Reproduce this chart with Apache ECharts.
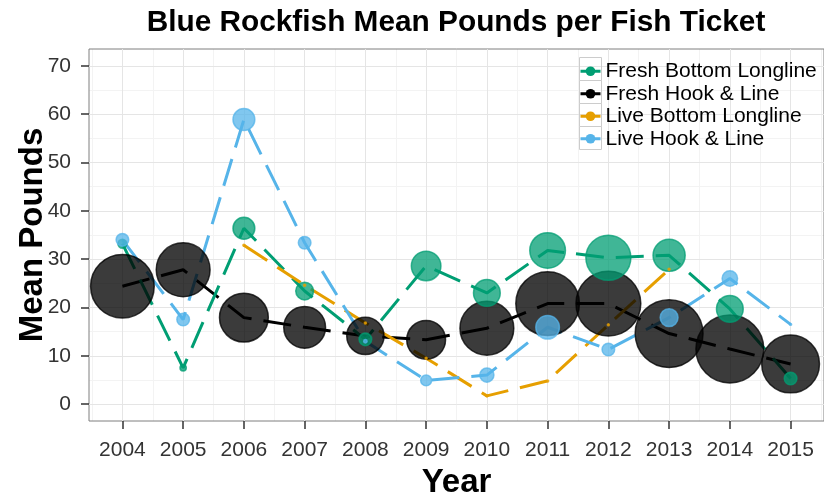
<!DOCTYPE html>
<html>
<head>
<meta charset="utf-8">
<script src="https://cdn.jsdelivr.net/npm/echarts@6/dist/echarts.min.js"></script>
<style>
  html, body { margin: 0; padding: 0; background: #fff; }
  #chart { width: 824px; height: 496px; }
</style>
</head>
<body>
<div id="chart"></div>
<script>
// years on the x axis
const years = [2004, 2005, 2006, 2007, 2008, 2009, 2010, 2011, 2012, 2013, 2014, 2015];

// mean pounds per ticket, by gear / condition
const freshBottomLongline = [33.2, 7.5, 36.4, 23.4, 13.4, 28.6, 23.0, 31.8, 30.3, 30.8, 19.7, 5.3];
const freshHookLine      = [24.4, 27.8, 17.9, 15.9, 14.1, 13.3, 15.7, 20.8, 20.8, 14.6, 11.4, 8.3];
const liveBottomLongline = [null, null, 32.9, 24.6, 16.8, 9.5, 1.7, 4.8, 16.4, 27.9, null, null];
const liveHookLine       = [34.0, 17.5, 58.9, 33.4, 13.0, 4.9, 6.0, 15.9, 11.3, 17.9, 26.0, 16.5];

// size aesthetic (relative number of tickets)
const freshBottomLonglineN = [2, 1, 12, 8, 4, 22, 18, 32, 51, 26, 18, 4];
const freshHookLineN       = [102, 73, 60, 44, 35, 38, 73, 102, 106, 116, 116, 84];
const liveBottomLonglineN  = [0.1, 0.1, 0.1, 0.1, 0.1, 0.1, 0.1, 0.1, 0.1, 0.1, 0.1, 0.1];
const liveHookLineN        = [4, 4, 12, 4, 0.3, 3, 5, 14, 4, 8, 6, 0.1];

const yTicks = [0, 10, 20, 30, 40, 50, 60, 70];
const yMinor = [5, 15, 25, 35, 45, 55, 65];
const xMinor = [2003.5, 2004.5, 2005.5, 2006.5, 2007.5, 2008.5, 2009.5, 2010.5, 2011.5, 2012.5, 2013.5, 2014.5, 2015.5];

const FONT = '"Liberation Sans", Arial, sans-serif';

function pairs(vals, n) {
  const out = [];
  years.forEach((y, i) => { if (vals[i] != null) out.push([y, vals[i], n[i]]); });
  return out;
}
function bubble(v) { return Math.sqrt(v[2]) * 6.3; }

function mkSeries(name, color, alpha, vals, n) {
  return {
    name: name,
    type: 'line',
    data: pairs(vals, n),
    symbol: 'circle',
    symbolSize: bubble,
    showAllSymbol: true,
    lineStyle: { color: color, width: 3, type: [28, 12], cap: 'butt' },
    itemStyle: { color: color, opacity: alpha, borderColor: color, borderWidth: 1.5 },
    emphasis: { disabled: true },
    z: 3
  };
}

const chart = echarts.init(document.getElementById('chart'));
const xMin = 2003.45, xMax = 2015.55, yMin = -3.5, yMax = 73.5;

chart.setOption({
  animation: false,
  title: {
    text: 'Blue Rockfish Mean Pounds per Fish Ticket',
    left: 451, top: 3, textAlign: 'center',
    textStyle: { fontFamily: FONT, fontWeight: 'bold', fontSize: 29.8, color: '#000' }
  },
  grid: {
    left: 89, right: 0, top: 49, bottom: 75, outerBoundsMode: 'none', containLabel: false,
    show: true, borderColor: '#7f7f7f', borderWidth: 1
  },
  legend: {
    orient: 'vertical', left: 579, top: 60, padding: 0,
    data: ['Fresh Bottom Longline', 'Fresh Hook & Line', 'Live Bottom Longline', 'Live Hook & Line'],
    itemWidth: 20, itemHeight: 12, itemGap: 0,
    lineStyle: { type: 'solid', width: 3 },
    itemStyle: { opacity: 1, borderWidth: 0 },
    textStyle: { fontFamily: FONT, fontSize: 21, color: '#000', lineHeight: 22.5 }
  },
  xAxis: [{
    type: 'value', min: xMin, max: xMax,
    axisLine: { show: false, onZero: false },
    axisTick: { show: true, length: 8, lineStyle: { color: '#333', width: 1.5 }, customValues: years },
    axisLabel: { customValues: years, margin: 19, fontFamily: FONT, fontSize: 21, color: '#333', formatter: v => String(v) },
    splitLine: { show: true, lineStyle: { color: '#e5e5e5', width: 1 } },
    name: 'Year', nameLocation: 'middle', nameGap: 45,
    nameTextStyle: { fontFamily: FONT, fontWeight: 'bold', fontSize: 33, color: '#000' }
  }, {
    type: 'value', min: xMin, max: xMax, position: 'top', z: -1,
    axisLine: { show: false, onZero: false },
    axisTick: { show: false, customValues: xMinor },
    axisLabel: { show: false },
    splitLine: { show: true, lineStyle: { color: '#f3f3f3', width: 1 } }
  }],
  yAxis: [{
    type: 'value', min: yMin, max: yMax,
    axisLine: { show: false, onZero: false },
    axisTick: { show: true, length: 8, lineStyle: { color: '#333', width: 1.5 }, customValues: yTicks },
    axisLabel: { customValues: yTicks, margin: 18, fontFamily: FONT, fontSize: 21, color: '#333' },
    splitLine: { show: true, lineStyle: { color: '#e5e5e5', width: 1 } },
    name: 'Mean Pounds', nameLocation: 'middle', nameGap: 40, nameRotate: 90, nameMoveOverlap: false,
    nameTextStyle: { fontFamily: FONT, fontWeight: 'bold', fontSize: 33, color: '#000' }
  }, {
    type: 'value', min: yMin, max: yMax, position: 'right', z: -1,
    axisLine: { show: false, onZero: false },
    axisTick: { show: false, customValues: yMinor },
    axisLabel: { show: false },
    splitLine: { show: true, lineStyle: { color: '#f3f3f3', width: 1 } }
  }],
  graphic: [0, 1, 2, 3].map(i => ({
    type: 'rect', left: 577, top: 55 + i * 23, z: 10,
    shape: { width: 22, height: 23 },
    style: { fill: 'none', stroke: '#cccccc', lineWidth: 1 }
  })),
  series: [
    mkSeries('Fresh Hook & Line', '#000000', 0.77, freshHookLine, freshHookLineN),
    mkSeries('Fresh Bottom Longline', '#009E73', 0.75, freshBottomLongline, freshBottomLonglineN),
    mkSeries('Live Bottom Longline', '#E69F00', 0.75, liveBottomLongline, liveBottomLonglineN),
    mkSeries('Live Hook & Line', '#56B4E9', 0.75, liveHookLine, liveHookLineN)
  ]
});
</script>
</body>
</html>
